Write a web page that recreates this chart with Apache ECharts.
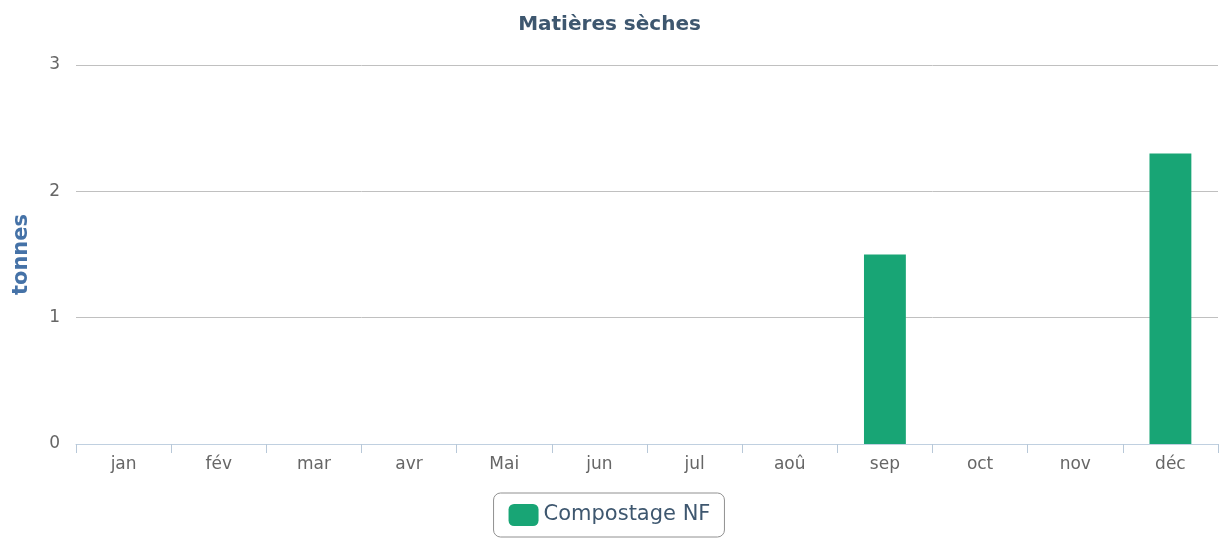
<!DOCTYPE html>
<html>
<head>
<meta charset="utf-8">
<script src="https://cdn.jsdelivr.net/npm/echarts@6/dist/echarts.min.js"></script>
<style>
  html, body { margin: 0; padding: 0; background: #fff; }
  #chart { width: 1219px; height: 538px; }
</style>
</head>
<body>
<div id="chart"></div>
<script>
// données
const months = ['jan', 'fév', 'mar', 'avr', 'Mai', 'jun', 'jul', 'aoû', 'sep', 'oct', 'nov', 'déc'];
const compostageNF = [0, 0, 0, 0, 0, 0, 0, 0, 1.5, 0, 0, 2.3];
const yTicks = [0, 1, 2, 3];

const font = 'DejaVu Sans';
const chart = echarts.init(document.getElementById('chart'));

chart.setOption({
  animation: false,
  title: {
    text: 'Matières sèches',
    left: 'center',
    top: 10,
    textStyle: { fontFamily: font, fontSize: 20, fontWeight: 'bold', color: '#3E576F' }
  },
  legend: {
    bottom: 1,
    left: 'center',
    itemWidth: 30,
    itemHeight: 22,
    itemGap: 10,
    padding: [11, 14, 11, 15],
    borderColor: '#909090',
    borderWidth: 1,
    borderRadius: 7,
    textStyle: { fontFamily: font, fontSize: 21, color: '#3E576F' },
    data: [{ name: 'Compostage NF', icon: 'roundRect' }]
  },
  grid: { left: 76, right: 1, top: 65, bottom: 94, containLabel: false },
  xAxis: {
    type: 'category',
    data: months,
    axisLine: { lineStyle: { color: '#C0D0E0', width: 1 } },
    axisTick: { show: true, length: 9, lineStyle: { color: '#B8C8D8' } },
    axisLabel: { fontFamily: font, fontSize: 17, color: '#666', margin: 12 }
  },
  yAxis: {
    type: 'value',
    min: yTicks[0],
    max: yTicks[yTicks.length - 1],
    interval: 1,
    name: 'tonnes',
    nameLocation: 'middle',
    nameGap: 44,
    nameTextStyle: { fontFamily: font, fontSize: 21, fontWeight: 'bold', color: '#4572A7' },
    axisLine: { show: false },
    axisTick: { show: false },
    axisLabel: { fontFamily: font, fontSize: 17, color: '#666', margin: 16 },
    splitLine: { lineStyle: { color: '#C0C0C0', width: 1 } }
  },
  series: [{
    name: 'Compostage NF',
    type: 'bar',
    data: compostageNF,
    barWidth: '44%',
    itemStyle: { color: '#18A575' }
  }]
});
</script>
</body>
</html>
